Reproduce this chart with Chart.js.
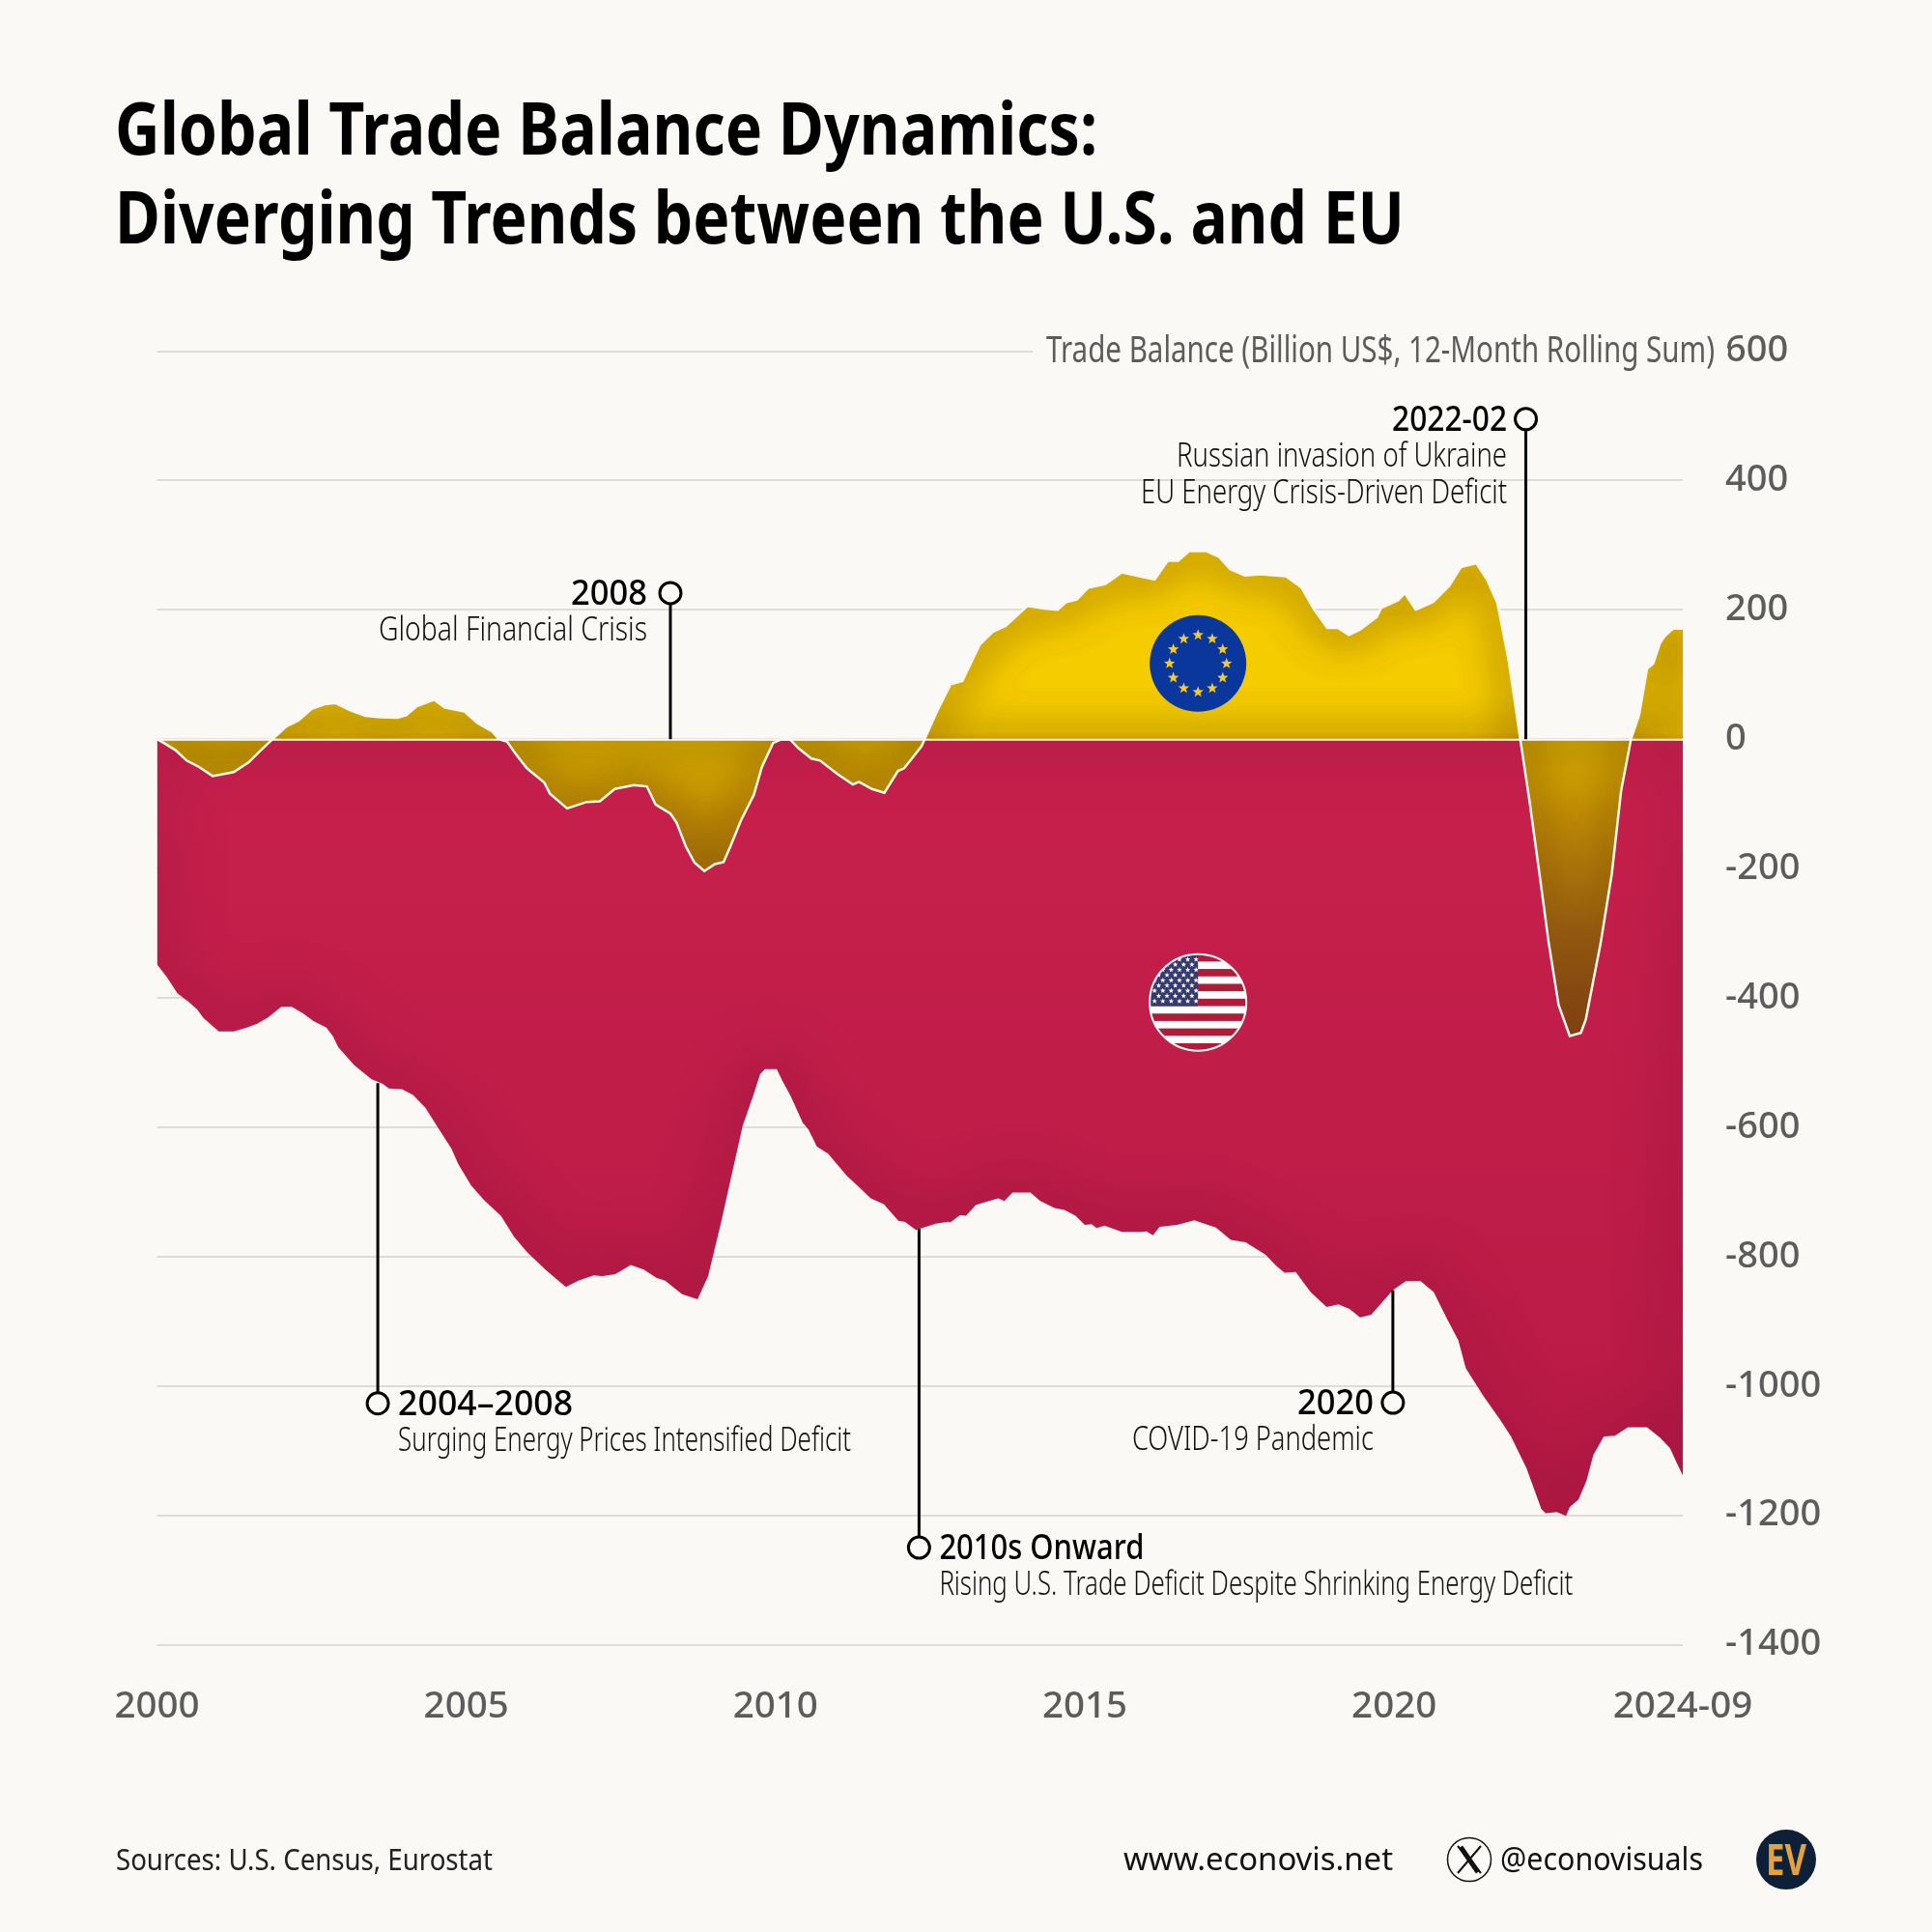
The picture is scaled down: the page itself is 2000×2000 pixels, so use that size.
<!DOCTYPE html>
<html>
<head>
<meta charset="utf-8">
<title>Global Trade Balance Dynamics</title>
<script src="https://cdn.jsdelivr.net/npm/chart.js@4"></script>
<style>
    html, body { margin: 0; padding: 0; background: #faf9f5; }
    canvas { display: block; }
</style>
</head>
<body>
<canvas id="grafico" width="2000" height="2000"></canvas>
<script>
// EU trade balance (year as decimal, billion US$)
const euYears = [2000, 2000.13, 2000.3, 2000.48, 2000.68, 2000.9, 2001.24, 2001.48, 2001.66, 2001.87, 2002.08, 2002.29, 2002.5, 2002.71, 2002.88, 2003.12, 2003.37, 2003.61, 2003.89, 2004.03, 2004.2, 2004.48, 2004.65, 2004.97, 2005.18, 2005.42, 2005.53, 2005.66, 2005.8, 2005.98, 2006.26, 2006.35, 2006.63, 2006.95, 2007.16, 2007.4, 2007.71, 2007.92, 2008.06, 2008.3, 2008.4, 2008.55, 2008.69, 2008.85, 2009.02, 2009.16, 2009.27, 2009.44, 2009.65, 2009.78, 2009.96, 2010.1, 2010.23, 2010.37, 2010.58, 2010.72, 2011, 2011.25, 2011.35, 2011.56, 2011.76, 2011.98, 2012.08, 2012.36, 2012.41, 2012.61, 2012.83, 2013.02, 2013.3, 2013.51, 2013.72, 2014.07, 2014.35, 2014.56, 2014.7, 2014.87, 2015.05, 2015.33, 2015.6, 2015.88, 2016.13, 2016.34, 2016.51, 2016.69, 2016.96, 2017.17, 2017.35, 2017.59, 2017.84, 2018.25, 2018.5, 2018.71, 2018.92, 2019.09, 2019.27, 2019.44, 2019.72, 2019.79, 2020.07, 2020.17, 2020.35, 2020.63, 2020.89, 2021.08, 2021.33, 2021.5, 2021.67, 2021.85, 2021.96, 2022.04, 2022.19, 2022.35, 2022.5, 2022.66, 2022.84, 2023.02, 2023.1, 2023.34, 2023.52, 2023.67, 2023.83, 2023.96, 2024.09, 2024.19, 2024.3, 2024.38, 2024.51, 2024.67];
const euValues = [0, -7, -17, -33, -43, -57, -51, -36, -19, 0, 19, 29, 47, 54, 56, 45, 36, 34, 33, 37, 51, 61, 49, 43, 25, 12, 0, -4, -23, -45, -67, -84, -107, -97, -96, -77, -71, -73, -101, -115, -129, -166, -191, -204, -193, -190, -166, -126, -86, -43, -6, 0, 0, -14, -30, -33, -54, -70, -66, -77, -83, -49, -45, -11, 0, 43, 85, 90, 146, 166, 175, 206, 202, 200, 212, 216, 234, 240, 258, 252, 247, 276, 276, 291, 291, 282, 263, 253, 255, 252, 235, 200, 172, 172, 161, 169, 189, 203, 215, 226, 200, 212, 237, 266, 272, 247, 211, 123, 53, 0, -96, -208, -315, -411, -459, -454, -433, -315, -208, -80, 0, 37, 109, 117, 149, 160, 171, 171];

// U.S. trade balance
const usYears = [2000, 2000.16, 2000.33, 2000.51, 2000.65, 2000.75, 2001, 2001.24, 2001.45, 2001.62, 2001.8, 2002.01, 2002.18, 2002.36, 2002.53, 2002.74, 2002.85, 2002.93, 2003.19, 2003.47, 2003.65, 2003.75, 2003.96, 2004.14, 2004.34, 2004.52, 2004.76, 2004.87, 2005.08, 2005.29, 2005.56, 2005.77, 2005.98, 2006.3, 2006.61, 2006.82, 2007.06, 2007.2, 2007.41, 2007.66, 2007.87, 2008.08, 2008.21, 2008.49, 2008.74, 2008.91, 2009.12, 2009.33, 2009.47, 2009.64, 2009.75, 2009.83, 2010.02, 2010.11, 2010.24, 2010.44, 2010.53, 2010.67, 2010.85, 2011.15, 2011.31, 2011.54, 2011.75, 2011.99, 2012.09, 2012.27, 2012.59, 2012.79, 2012.83, 2012.98, 2013.08, 2013.24, 2013.6, 2013.7, 2013.83, 2014.12, 2014.28, 2014.51, 2014.67, 2014.85, 2015, 2015.11, 2015.19, 2015.32, 2015.6, 2015.9, 2016, 2016.1, 2016.21, 2016.49, 2016.77, 2017.12, 2017.36, 2017.6, 2017.92, 2018.1, 2018.23, 2018.41, 2018.65, 2018.91, 2019.1, 2019.28, 2019.45, 2019.63, 2019.98, 2020.19, 2020.43, 2020.64, 2020.85, 2021.04, 2021.16, 2021.44, 2021.72, 2021.89, 2022.14, 2022.38, 2022.45, 2022.63, 2022.78, 2022.84, 2022.98, 2023.11, 2023.22, 2023.39, 2023.57, 2023.78, 2024.09, 2024.3, 2024.46, 2024.58, 2024.67];
const usValues = [-348, -368, -393, -406, -418, -431, -452, -452, -446, -440, -430, -414, -414, -424, -436, -446, -460, -476, -504, -526, -533, -540, -541, -550, -570, -597, -633, -657, -690, -713, -737, -769, -793, -822, -847, -837, -829, -830, -827, -813, -820, -833, -837, -858, -866, -830, -747, -657, -597, -551, -518, -510, -510, -528, -551, -593, -603, -630, -641, -675, -689, -710, -719, -745, -746, -759, -749, -746, -747, -736, -737, -720, -710, -714, -701, -701, -714, -725, -728, -737, -751, -750, -756, -752, -762, -762, -761, -767, -754, -751, -744, -755, -774, -778, -797, -815, -825, -824, -855, -878, -874, -881, -894, -890, -852, -838, -838, -855, -895, -930, -973, -1015, -1053, -1078, -1127, -1190, -1197, -1195, -1201, -1187, -1176, -1147, -1107, -1078, -1077, -1064, -1064, -1080, -1096, -1121, -1139];

const xTickValues = [2000, 2005, 2010, 2015, 2020, 2024.667];
const xTickLabels = ['2000', '2005', '2010', '2015', '2020', '2024-09'];

// callouts: where the stem sits, where it starts on the data and where the ring is
const noteYears = [2003.57, 2008.3, 2012.32, 2019.98, 2022.13];
const noteFrom = [-532, 0, -757, -852, 0];
const noteRing = [-1027, 226, -1250, -1026, 495];
const noteHeads = ['2004–2008', '2008', '2010s Onward', '2020', '2022-02'];
const noteLines = [
    ['Surging Energy Prices Intensified Deficit'],
    ['Global Financial Crisis'],
    ['Rising U.S. Trade Deficit Despite Shrinking Energy Deficit'],
    ['COVID-19 Pandemic'],
    ['Russian invasion of Ukraine', 'EU Energy Crisis-Driven Deficit']
];
const noteSide = ['right', 'left', 'right', 'left', 'left'];
const noteGap = [21, 24, 21, 20, 19.5];
const noteHeadWidth = [181, 79, 212, 79, 119];
const noteLineWidth = [[469], [278], [656], [250], [342, 379]];

const flagYear = 2016.83;
const flagEuValue = 117;
const flagUsValue = -407;

const fundo = '#faf9f5';
const fonte = '"Noto Sans"';

function texto(ctx, str, x, y, font, color, align, maxW) {
    ctx.font = font;
    ctx.fillStyle = color;
    ctx.textAlign = align || 'left';
    ctx.textBaseline = 'alphabetic';
    ctx.fillText(str, x, y, maxW);
}

function estrela(ctx, x, y, r, color) {
    ctx.beginPath();
    for (var i = 0; i < 10; i++) {
        var a = -Math.PI / 2 + i * Math.PI / 5;
        var d = i % 2 == 0 ? r : r * 0.42;
        ctx.lineTo(x + Math.cos(a) * d, y + Math.sin(a) * d);
    }
    ctx.closePath();
    ctx.fillStyle = color;
    ctx.fill();
}

function bandeiraEU(ctx, x, y) {
    ctx.beginPath();
    ctx.arc(x, y, 50, 0, Math.PI * 2);
    ctx.fillStyle = '#0a379c';
    ctx.fill();
    for (var i = 0; i < 12; i++) {
        var a = i * Math.PI / 6;
        estrela(ctx, x + Math.cos(a) * 29.5, y + Math.sin(a) * 29.5, 6, '#f2c92e');
    }
}

function bandeiraUS(ctx, x, y) {
    var r = 50;
    ctx.save();
    ctx.beginPath();
    ctx.arc(x, y, r, 0, Math.PI * 2);
    ctx.clip();
    ctx.fillStyle = '#ffffff';
    ctx.fillRect(x - r, y - r, r * 2, r * 2);
    var h = r * 2 / 13;
    ctx.fillStyle = '#b01c38';
    for (var i = 0; i < 13; i += 2) {
        ctx.fillRect(x - r, y - r + i * h, r * 2, h);
    }
    ctx.fillStyle = '#353a70';
    ctx.fillRect(x - r, y - r, r, h * 7);
    for (var row = 0; row < 9; row++) {
        var n = row % 2 == 0 ? 6 : 5;
        for (var col = 0; col < n; col++) {
            var sx = x - r + 5 + col * 8.6 + (row % 2 == 0 ? 0 : 4.3);
            estrela(ctx, sx, y - r + 5.5 + row * 5.4, 2.9, '#ffffff');
        }
    }
    ctx.restore();
    ctx.beginPath();
    ctx.arc(x, y, r, 0, Math.PI * 2);
    ctx.strokeStyle = '#ffffff';
    ctx.lineWidth = 2;
    ctx.stroke();
}

// darkens the inside of each area along its edge, clipped to the area itself
const sombraInterna = {
    id: 'sombraInterna',
    beforeDatasetDraw(chart, args) {
        const pontos = chart.getDatasetMeta(args.index).data;
        const ctx = chart.ctx;
        const zero = chart.scales.y.getPixelForValue(0);
        const longe = 4000;
        function caminho(dx) {
            ctx.beginPath();
            ctx.moveTo(pontos[0].x + dx, zero);
            pontos.forEach(p => ctx.lineTo(p.x + dx, p.y));
            ctx.lineTo(pontos[pontos.length - 1].x + dx, zero);
            ctx.closePath();
        }
        ctx.save();
        caminho(0);
        ctx.clip();
        caminho(-longe);
        ctx.shadowOffsetX = longe;
        ctx.shadowBlur = args.index == 0 ? 42 : 60;
        ctx.shadowColor = args.index == 0 ? 'rgba(110,70,0,0.7)' : 'rgba(70,5,40,0.72)';
        ctx.lineWidth = 8;
        ctx.strokeStyle = '#000';
        ctx.stroke();
        if (args.index == 0) ctx.stroke();
        ctx.restore();
    }
};

const decoracao = {
    id: 'decoracao',
    beforeDatasetsDraw(chart) {
        const ctx = chart.ctx;
        // the axis title sits on the top grid line
        ctx.fillStyle = fundo;
        ctx.fillRect(1069, chart.chartArea.top - 3, 720, 6);
    },
    afterDatasetsDraw(chart) {
        const ctx = chart.ctx;
        const x = chart.scales.x;
        const y = chart.scales.y;
        const zero = y.getPixelForValue(0);

        ctx.strokeStyle = '#fdfcf8';
        ctx.lineWidth = 2;
        ctx.beginPath();
        ctx.moveTo(chart.chartArea.left, zero + 0.5);
        ctx.lineTo(chart.chartArea.right, zero + 0.5);
        ctx.stroke();

        bandeiraEU(ctx, x.getPixelForValue(flagYear), y.getPixelForValue(flagEuValue));
        bandeiraUS(ctx, x.getPixelForValue(flagYear), y.getPixelForValue(flagUsValue));

        for (var i = 0; i < noteYears.length; i++) {
            var nx = x.getPixelForValue(noteYears[i]);
            var ny = y.getPixelForValue(noteRing[i]);
            ctx.strokeStyle = '#000';
            ctx.lineWidth = 3;
            ctx.beginPath();
            ctx.moveTo(nx, y.getPixelForValue(noteFrom[i]));
            ctx.lineTo(nx, ny);
            ctx.stroke();
            ctx.beginPath();
            ctx.arc(nx, ny, 11, 0, Math.PI * 2);
            ctx.fillStyle = fundo;
            ctx.fill();
            ctx.stroke();

            var direita = noteSide[i] == 'right';
            var tx = direita ? nx + noteGap[i] : nx - noteGap[i];
            var alinhamento = direita ? 'left' : 'right';
            texto(ctx, noteHeads[i], tx, ny + 12, '500 36px ' + fonte, '#000', alinhamento, noteHeadWidth[i]);
            noteLines[i].forEach(function (linha, j) {
                texto(ctx, linha, tx, ny + 11 + 38 * (j + 1), '300 35px ' + fonte, '#111', alinhamento, noteLineWidth[i][j]);
            });
        }

        // title, axis title and footer
        texto(ctx, 'Global Trade Balance Dynamics:', 119, 160, '700 76px ' + fonte, '#000', 'left', 1017);
        texto(ctx, 'Diverging Trends between the U.S. and EU', 119, 252, '700 76px ' + fonte, '#000', 'left', 1335);
        texto(ctx, 'Trade Balance (Billion US$, 12-Month Rolling Sum)', 1083, 375, '400 39px ' + fonte, '#5c5c5c', 'left', 692);
        texto(ctx, 'Sources: U.S. Census, Eurostat', 120, 1936, '400 30px ' + fonte, '#222', 'left', 390);
        texto(ctx, 'www.econovis.net', 1163, 1936, '400 33px ' + fonte, '#111', 'left', 279);
        texto(ctx, '@econovisuals', 1553, 1936, '400 32px ' + fonte, '#111', 'left', 210);

        // X icon
        ctx.beginPath();
        ctx.arc(1521, 1925, 22.5, 0, Math.PI * 2);
        ctx.strokeStyle = '#111';
        ctx.lineWidth = 1.5;
        ctx.stroke();
        ctx.lineWidth = 2;
        ctx.beginPath();
        ctx.moveTo(1509, 1911);
        ctx.lineTo(1533, 1939);
        ctx.moveTo(1533, 1911);
        ctx.lineTo(1509, 1939);
        ctx.stroke();
        ctx.lineWidth = 5;
        ctx.beginPath();
        ctx.moveTo(1512, 1912);
        ctx.lineTo(1530, 1938);
        ctx.stroke();

        // logo
        ctx.beginPath();
        ctx.arc(1849, 1925, 31, 0, Math.PI * 2);
        ctx.fillStyle = '#0e1f38';
        ctx.fill();
        texto(ctx, 'EV', 1849, 1941, '700 44px ' + fonte, '#e3a33a', 'center', 42);
    }
};

function gradienteEU(context) {
    const chart = context.chart;
    if (!chart.chartArea) return '#f5cb00';
    const y = chart.scales.y;
    const g = chart.ctx.createLinearGradient(0, y.getPixelForValue(300), 0, y.getPixelForValue(-460));
    g.addColorStop(0, '#f5cc00');
    g.addColorStop(0.38, '#f5cc00');
    g.addColorStop(0.40, '#dcb000');
    g.addColorStop(0.55, '#c08c06');
    g.addColorStop(0.8, '#9a5c14');
    g.addColorStop(1, '#8a3f1c');
    return g;
}

function gradienteUS(context) {
    const chart = context.chart;
    if (!chart.chartArea) return '#c51f4b';
    const y = chart.scales.y;
    const g = chart.ctx.createLinearGradient(0, y.getPixelForValue(0), 0, y.getPixelForValue(-1200));
    g.addColorStop(0, '#c8204d');
    g.addColorStop(1, '#b81a45');
    return g;
}

const grafico = new Chart(document.getElementById('grafico'), {
    type: 'line',
    data: {
        datasets: [{
            label: 'EU',
            data: euYears.map((ano, i) => ({ x: ano, y: euValues[i] })),
            fill: 'origin',
            backgroundColor: gradienteEU,
            borderColor: '#fbf8ee',
            borderWidth: 2.5,
            pointRadius: 0,
            tension: 0
        }, {
            label: 'U.S.',
            data: usYears.map((ano, i) => ({ x: ano, y: usValues[i] })),
            fill: 'origin',
            backgroundColor: gradienteUS,
            borderWidth: 0,
            pointRadius: 0,
            tension: 0
        }]
    },
    options: {
        responsive: false,
        animation: false,
        devicePixelRatio: 1,
        layout: { padding: { left: 162.5, top: 363.5 } },
        plugins: { legend: { display: false }, tooltip: { enabled: false } },
        scales: {
            x: {
                type: 'linear',
                min: 2000,
                max: 2024.667,
                afterBuildTicks(scale) { scale.ticks = xTickValues.map(v => ({ value: v })); },
                afterFit(scale) { scale.height = 297.5; },
                grid: { display: false },
                border: { display: false },
                ticks: {
                    autoSkip: false,
                    maxRotation: 0,
                    padding: 33,
                    color: '#5c5c5c',
                    font: { family: 'Noto Sans', size: 38.5, weight: '500' },
                    callback(value) { return xTickLabels[xTickValues.indexOf(value)]; }
                }
            },
            y: {
                position: 'right',
                min: -1400,
                max: 600,
                afterFit(scale) { scale.width = 258; },
                grid: { color: '#dddcd6', lineWidth: 2, drawTicks: false },
                border: { display: false },
                ticks: {
                    stepSize: 200,
                    padding: 44,
                    color: '#5c5c5c',
                    font: { family: 'Noto Sans', size: 38, weight: '500' },
                    callback(value) { return String(value); }
                }
            }
        }
    },
    plugins: [sombraInterna, decoracao]
});
</script>
</body>
</html>
